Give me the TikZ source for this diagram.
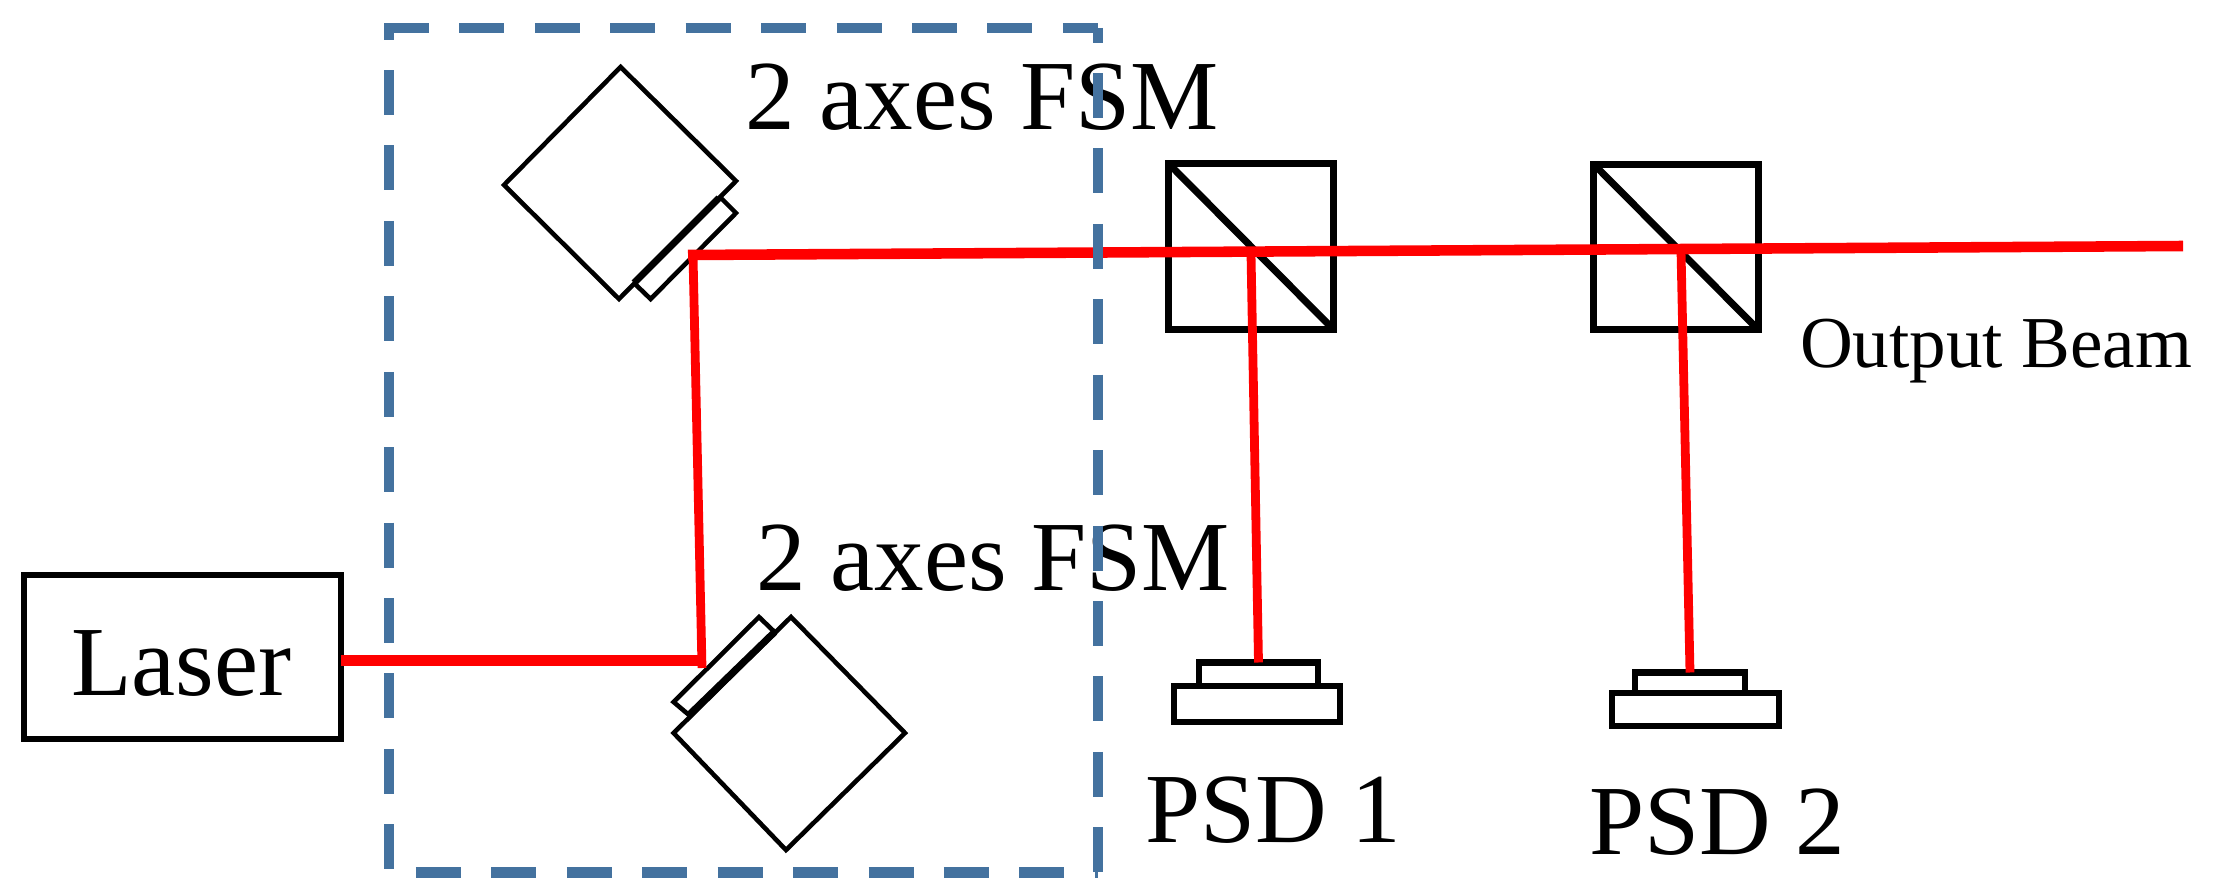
\documentclass[tikz,border=0pt]{standalone}
\usepackage{fontspec}
\setmainfont{Liberation Serif}
\definecolor{dashblue}{HTML}{44729F}
\definecolor{beamred}{HTML}{FF0000}
\tikzset{
  x=0.01cm,y=-0.01cm,
  boxed/.style={draw=black,line width=1.8pt,inner sep=0pt,outer sep=0pt,fill=white},
  splitter/.style={draw=black,line width=2pt,inner sep=0pt,outer sep=0pt},
  mirror/.style={draw=black,line width=1.3pt,line join=miter},
  mirrorface/.style={draw=black,line width=2pt},
  beam/.style={draw=beamred,line width=3pt,line cap=butt,line join=miter},
  thinbeam/.style={draw=beamred,line width=2.5pt},
  frameline/.style={draw=dashblue,line width=3pt},
  framedash/.style={dash pattern=on 12.8pt off 8.65pt,dash phase=#1},
  lab/.style={anchor=base west,inner sep=0pt,outer sep=0pt,font=\fontsize{28.2}{30}\selectfont},
  smalllab/.style={anchor=base west,inner sep=0pt,outer sep=0pt,font=\fontsize{20.8}{24}\selectfont}
}
\begin{document}
\begin{tikzpicture}
\useasboundingbox[fill=white] (0,0) rectangle (2221,894);
% labels
\node[lab] (fsmA) at (745,130) {2 axes FSM};
\node[lab] (fsmB) at (756,590) {2 axes FSM};
\node[lab] (psdAl) at (1145,842) {PSD 1};
\node[lab] (psdBl) at (1589,854) {PSD 2};
\node[smalllab] (out) at (1800,367) {Output Beam};
% laser
\node[boxed,minimum width=3.17cm,minimum height=1.64cm] (laser) at (182.5,657) {};
\node[lab] (laserl) at (71,695) {Laser};
% upper mirror
\draw[mirror] (620.6,67) -- (736,181) -- (619,299) -- (504,185) -- cycle;
\draw[mirror] (720,197) -- (736,213) -- (650.6,299) -- (634,283);
\draw[mirrorface] (719,198) -- (634,283);
% lower mirror
\draw[mirror] (791,617) -- (905,733) -- (786,850) -- (673.6,733) -- cycle;
\draw[mirror] (774.6,632) -- (759,617) -- (673.6,702) -- (689,715);
\draw[mirrorface] (774.6,632) -- (689,715);
% beam splitters
\node[splitter,minimum width=1.64cm,minimum height=1.65cm] (bsA) at (1251,246.5) {};
\node[splitter,minimum width=1.64cm,minimum height=1.65cm] (bsB) at (1676,247) {};
\draw[splitter] (bsA.north west) -- (bsA.south east);
\draw[splitter] (bsB.north west) -- (bsB.south east);
% detectors
\node[boxed,minimum width=1.19cm,minimum height=0.25cm] (psdAt) at (1258.5,675) {};
\node[boxed,minimum width=1.66cm,minimum height=0.36cm] (psdAb) at (1257,704) {};
\node[boxed,minimum width=1.10cm,minimum height=0.23cm] (psdBt) at (1690,684) {};
\node[boxed,minimum width=1.67cm,minimum height=0.33cm] (psdBb) at (1695.5,709.5) {};
% beam
\coordinate (turnB) at (702,660.5);
\coordinate (turnA) at (693,255);
\coordinate (exit) at (2183,246);
\coordinate (tapA) at (1251,254);
\coordinate (tapB) at (1681,251);
\draw[beam] (laser.east |- turnB) -- (turnB);
\draw[thinbeam] (702,668) -- (turnA);
\draw[beam] (688,255) -- (exit);
\draw[thinbeam] (tapA) -- (psdAt.north);
\draw[thinbeam] (tapB) -- (psdBt.north);
% dashed frame
\coordinate (fNW) at (389,28);
\coordinate (fNE) at (1098,28);
\coordinate (fSW) at (389,872.5);
\coordinate (fSE) at (1098,872.5);
\draw[frameline,framedash=0pt] (384,28) -- (fNE);
\draw[frameline,framedash=9.5pt] (fNW) -- (fSW);
\draw[frameline,framedash=8.65pt] (fNE) -- (fSE);
\draw[frameline,framedash=13.8pt] (fSW) -- (fSE);
\end{tikzpicture}
\end{document}
